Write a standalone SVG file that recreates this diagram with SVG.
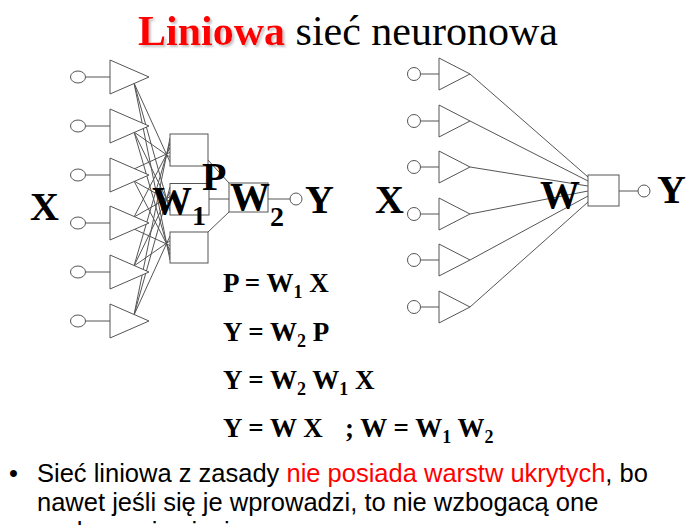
<svg xmlns="http://www.w3.org/2000/svg" width="700" height="525" viewBox="0 0 700 525">
<defs>
<style>
.ln{stroke:#555;stroke-width:1;fill:none}
.nd{stroke:#555;stroke-width:1;fill:#fff}
.t{font-family:"Liberation Serif","Times New Roman",serif;font-weight:bold;fill:#000}
.big{font-size:40px}
.sub{font-size:28px}
.eq{font-size:27px}
.es{font-size:18px}
.body{font-family:"Liberation Sans",Arial,sans-serif;font-size:25.5px;fill:#000}
</style>
<filter id="sh" x="-5%" y="-10%" width="115%" height="130%">
<feDropShadow dx="2" dy="2" stdDeviation="0.8" flood-color="#999" flood-opacity="0.6"/>
</filter>
</defs>
<rect width="700" height="525" fill="#fff"/>

<text x="138" y="45" font-family="'Liberation Serif','Times New Roman',serif" font-size="42"><tspan fill="#f00" font-weight="bold" filter="url(#sh)">Liniowa</tspan><tspan fill="#000"> sieć neuronowa</tspan></text>

<g id="connectors">
<!-- left: inputs to amplifiers -->
<path class="ln" d="M85.5 77H110M85.5 126H110M85.5 175H110M85.5 223H110M85.5 272H110M85.5 321H110"/>
<!-- left: amplifiers to hidden boxes -->
<path class="ln" d="M134 83L170 162M134 83L170 211M134 83L170 260
M134 132L170 157.2M134 132L170 206.2M134 132L170 255.2
M134 169L170 152.4M134 181L170 201.4M134 181L170 250.4
M134 217L170 147.6M134 217L170 196.6M134 229L170 245.6
M134 266L170 142.8M134 266L170 191.8M134 266L170 240.8
M134 315L170 138M134 315L170 187M134 315L170 236"/>
<!-- left: hidden boxes to W2 -->
<path class="ln" d="M208 160L229 183M209 199H229M208 232L229 212"/>
<path class="ln" d="M268 199H290"/>
<!-- right: inputs to amplifiers -->
<path class="ln" d="M420.5 74H439M420.5 121H439M420.5 167H439M420.5 214H439M420.5 260H439M420.5 307H439"/>
<!-- right: amplifiers to W -->
<path class="ln" d="M470 74L588 177M470 121L588 181M470 167L588 186M470 214L588 191M470 260L588 196M470 307L588 202"/>
<path class="ln" d="M619 191H638"/>
</g>

<g id="left-inputs">
<ellipse class="nd" cx="78" cy="77" rx="7.5" ry="6"/>
<ellipse class="nd" cx="78" cy="126" rx="7.5" ry="6"/>
<ellipse class="nd" cx="78" cy="175" rx="7.5" ry="6"/>
<ellipse class="nd" cx="78" cy="223" rx="7.5" ry="6"/>
<ellipse class="nd" cx="78" cy="272" rx="7.5" ry="6"/>
<ellipse class="nd" cx="78" cy="321" rx="7.5" ry="6"/>
</g>
<g id="left-neurons">
<polygon class="nd" points="110,60 149,77 110,94"/>
<polygon class="nd" points="110,109 149,126 110,143"/>
<polygon class="nd" points="110,158 149,175 110,192"/>
<polygon class="nd" points="110,206 149,223 110,240"/>
<polygon class="nd" points="110,255 149,272 110,289"/>
<polygon class="nd" points="110,304 149,321 110,338"/>
</g>
<g id="hidden-layer">
<rect class="nd" x="170" y="134" width="38" height="32"/>
<rect class="nd" x="170" y="183.5" width="39" height="31.5"/>
<rect class="nd" x="170" y="232" width="38" height="31"/>
</g>
<g id="w2-node">
<rect class="nd" x="229" y="183" width="39" height="29"/>
</g>
<g id="left-output">
<circle class="nd" cx="296" cy="199" r="6"/>
</g>

<g id="right-inputs">
<circle class="nd" cx="414" cy="74" r="6.5"/>
<circle class="nd" cx="414" cy="121" r="6.5"/>
<circle class="nd" cx="414" cy="167" r="6.5"/>
<circle class="nd" cx="414" cy="214" r="6.5"/>
<circle class="nd" cx="414" cy="260" r="6.5"/>
<circle class="nd" cx="414" cy="307" r="6.5"/>
</g>
<g id="right-neurons">
<polygon class="nd" points="439,58 470,74 439,90"/>
<polygon class="nd" points="439,105 470,121 439,137"/>
<polygon class="nd" points="439,151 470,167 439,183"/>
<polygon class="nd" points="439,198 470,214 439,230"/>
<polygon class="nd" points="439,244 470,260 439,276"/>
<polygon class="nd" points="439,291 470,307 439,323"/>
</g>
<g id="w-node">
<rect class="nd" x="588" y="175" width="31" height="31"/>
</g>
<g id="right-output">
<circle class="nd" cx="644" cy="191" r="6"/>
</g>

<g id="labels">
<text class="t big" x="30" y="220">X</text>
<text class="t big" x="152" y="214">W<tspan class="sub" dy="11">1</tspan></text>
<text class="t big" x="202" y="190">P</text>
<text class="t big" x="230" y="210">W<tspan class="sub" dy="16">2</tspan></text>
<text class="t big" x="305" y="213">Y</text>
<text class="t big" x="375" y="213">X</text>
<text class="t big" x="540" y="208">W</text>
<text class="t big" x="657" y="203">Y</text>
</g>

<g id="equations">
<text class="t eq" x="223" y="292">P = W<tspan class="es" dy="6">1</tspan><tspan dy="-6"> X</tspan></text>
<text class="t eq" x="223" y="341">Y = W<tspan class="es" dy="6">2</tspan><tspan dy="-6"> P</tspan></text>
<text class="t eq" x="223" y="389">Y = W<tspan class="es" dy="6">2</tspan><tspan dy="-6"> W</tspan><tspan class="es" dy="6">1</tspan><tspan dy="-6"> X</tspan></text>
<text class="t eq" x="223" y="437">Y = W X<tspan x="345">; W = W</tspan><tspan class="es" dy="6">1</tspan><tspan dy="-6"> W</tspan><tspan class="es" dy="6">2</tspan></text>
</g>

<g id="note">
<text class="body" x="9" y="482">•</text>
<text class="body" x="37" y="482">Sieć liniowa z zasady <tspan fill="#f00">nie posiada warstw ukrytych</tspan>, bo</text>
<text class="body" x="37" y="511">nawet jeśli się je wprowadzi, to nie wzbogacą one</text>
<text class="body" x="37" y="540">zachowania sieci</text>
</g>
</svg>
